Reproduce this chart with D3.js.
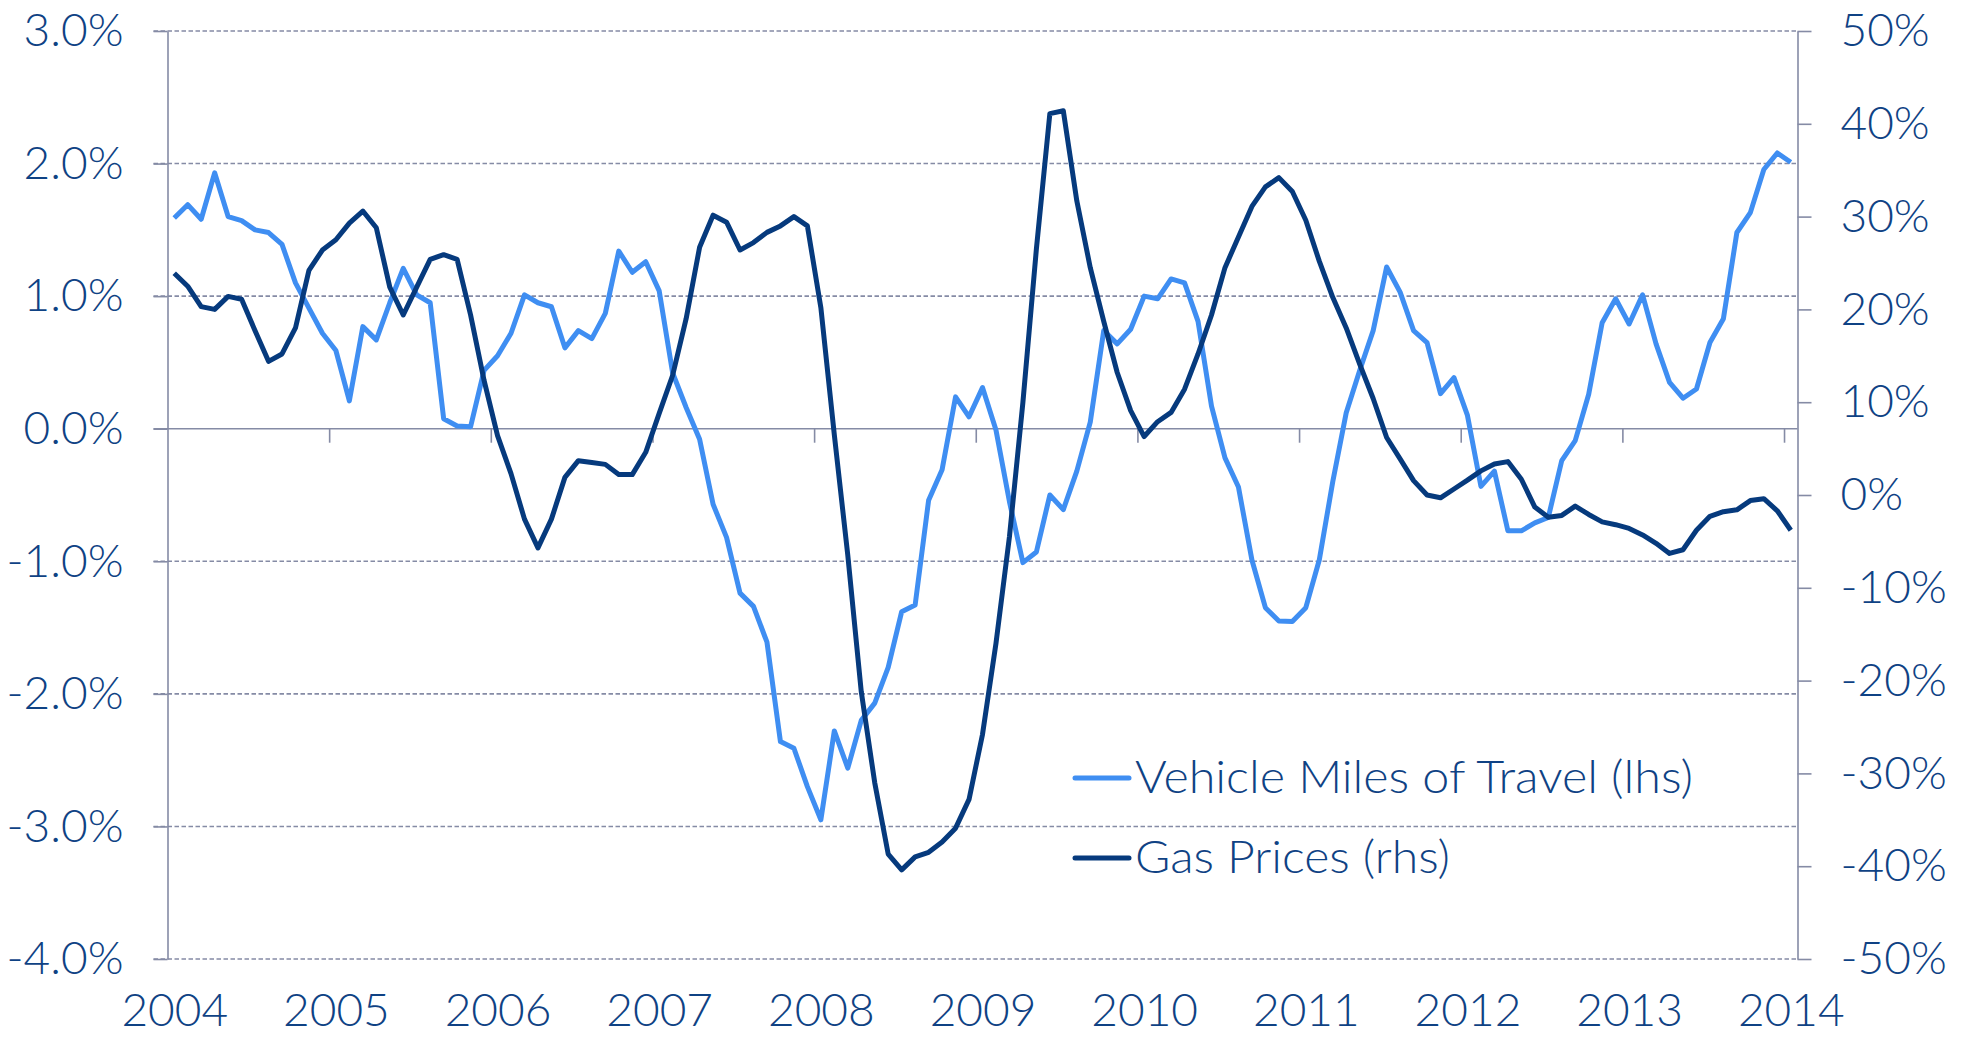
<!DOCTYPE html>
<html>
<head>
<meta charset="utf-8">
<style>
  body { margin: 0; background: #fff; }
  text { font-family: Lato, "Open Sans", sans-serif; font-weight: 300; fill: #0f4284; }
</style>
</head>
<body>
<script src="https://d3js.org/d3.v7.min.js"></script>
<svg id="chart" width="1965" height="1037"></svg>
<script>
  // monthly, Jan 2004 .. Jan 2014
  const years = [2004, 2005, 2006, 2007, 2008, 2009, 2010, 2011, 2012, 2013, 2014];
  const leftTicks = [-4, -3, -2, -1, 0, 1, 2, 3];
  const rightTicks = [-50, -40, -30, -20, -10, 0, 10, 20, 30, 40, 50];

  // Vehicle Miles of Travel, y/y % (lhs)
  const vmt = [
    1.59, 1.69, 1.58, 1.93, 1.60, 1.57, 1.50, 1.48, 1.39, 1.10, 0.91, 0.72,
    0.59, 0.21, 0.77, 0.67, 0.95, 1.21, 1.01, 0.95, 0.075, 0.02, 0.015, 0.44,
    0.55, 0.72, 1.01, 0.95, 0.92, 0.61, 0.74, 0.68, 0.87, 1.34, 1.18, 1.26,
    1.04, 0.42, 0.16, -0.08, -0.57, -0.82, -1.24, -1.34, -1.61, -2.36, -2.41, -2.70,
    -2.95, -2.28, -2.56, -2.20, -2.07, -1.80, -1.38, -1.33, -0.54, -0.31, 0.24, 0.09,
    0.31, -0.01, -0.55, -1.01, -0.93, -0.50, -0.61, -0.32, 0.05, 0.74, 0.64, 0.75,
    1.00, 0.98, 1.13, 1.10, 0.81, 0.17, -0.22, -0.44, -0.99, -1.35, -1.45, -1.455,
    -1.35, -0.99, -0.40, 0.12, 0.44, 0.74, 1.22, 1.03, 0.74, 0.65, 0.265, 0.385,
    0.10, -0.435, -0.32, -0.77, -0.77, -0.71, -0.67, -0.24, -0.09, 0.26, 0.80, 0.98,
    0.79, 1.01, 0.64, 0.35, 0.23, 0.30, 0.65, 0.83, 1.48, 1.63, 1.955, 2.08,
    2.01
  ];

  // Gas prices, y/y % (rhs)
  const gas = [
    23.9, 22.5, 20.3, 20.0, 21.4, 21.1, 17.7, 14.4, 15.2, 18.0, 24.2, 26.4,
    27.5, 29.3, 30.6, 28.8, 22.4, 19.4, 22.4, 25.4, 25.9, 25.4, 19.4, 12.35,
    6.4, 2.3, -2.6, -5.7, -2.6, 1.9, 3.7, 3.5, 3.3, 2.2, 2.2, 4.6,
    8.8, 12.9, 19.0, 26.7, 30.15, 29.4, 26.4, 27.2, 28.3, 29.0, 30.0, 29.0,
    20.2, 6.5, -6.5, -21.2, -31.0, -38.7, -40.4, -39.0, -38.5, -37.4, -35.9, -32.8,
    -25.8, -16.0, -4.5, 10.0, 26.5, 41.1, 41.4, 31.7, 24.5, 18.7, 13.2, 9.1,
    6.3, 7.9, 8.9, 11.4, 15.2, 19.4, 24.5, 27.8, 31.1, 33.2, 34.2, 32.7,
    29.6, 25.2, 21.3, 18.0, 14.1, 10.4, 6.2, 3.9, 1.55, 0.0, -0.3, 0.65,
    1.6, 2.6, 3.35, 3.6, 1.7, -1.3, -2.4, -2.2, -1.2, -2.1, -2.9, -3.2,
    -3.6, -4.3, -5.2, -6.3, -5.9, -3.8, -2.3, -1.8, -1.6, -0.6, -0.4, -1.7,
    -3.8
  ];

  const series = ['Vehicle Miles of Travel (lhs)', 'Gas Prices (rhs)'];
  const colors = ['#3f8ef2', '#063a7d'];
  const gridColor = '#858ba5';
  const textColor = '#0f4284';

  const svg = d3.select('#chart');
  const margin = {top: 31, right: 167.5, bottom: 78, left: 167.5};
  const width = +svg.attr('width') - margin.left - margin.right;   // ~1630
  const height = +svg.attr('height') - margin.top - margin.bottom; // 928
  const g = svg.append('g').attr('transform', `translate(${margin.left}, ${margin.top})`);

  const x = d3.scaleLinear().domain([0, vmt.length]).range([0, width]);
  const yL = d3.scaleLinear().domain([-4, 3]).range([height, 0]);
  const yR = d3.scaleLinear().domain([-50, 50]).range([height, 0]);

  // gridlines (dashed), zero line solid
  g.append('g').selectAll('line')
    .data(leftTicks)
    .enter().append('line')
    .attr('x1', -14).attr('x2', width)
    .attr('y1', d => yL(d)).attr('y2', d => yL(d))
    .attr('stroke', gridColor)
    .attr('stroke-width', 1.6)
    .attr('stroke-dasharray', d => d === 0 ? null : '4.5,2.5');

  // left axis
  const leftAxis = g.append('g')
    .call(d3.axisLeft(yL).tickValues(leftTicks).tickSize(14).tickSizeOuter(0).tickPadding(30)
      .tickFormat(d => d.toFixed(1) + '%'));

  // right axis
  const rightAxis = g.append('g').attr('transform', `translate(${width}, 0)`)
    .call(d3.axisRight(yR).tickValues(rightTicks).tickSize(14).tickSizeOuter(0).tickPadding(29)
      .tickFormat(d => d + '%'));

  // year ticks on the zero line
  const tickAxis = g.append('g').attr('transform', `translate(0, ${yL(0)})`)
    .call(d3.axisBottom(x).tickValues(years.slice(1).map((y, i) => (i + 1) * 12))
      .tickSize(14).tickSizeOuter(0).tickFormat(''));
  tickAxis.select('.domain').remove();

  // year labels at bottom (centred on January)
  const yearAxis = g.append('g').attr('transform', `translate(0, ${height})`)
    .call(d3.axisBottom(x).tickValues(years.map((y, i) => i * 12 + 0.5))
      .tickSize(0).tickPadding(34).tickFormat((d, i) => years[i]));
  yearAxis.select('.domain').remove();

  [leftAxis, rightAxis, tickAxis].forEach(a => {
    a.selectAll('.domain').attr('stroke', gridColor).attr('stroke-width', 1.6);
    a.selectAll('.tick line').attr('stroke', gridColor).attr('stroke-width', 1.6);
  });
  [leftAxis, rightAxis].forEach(a => a.selectAll('text')
    .attr('font-size', 46).attr('font-family', 'Lato').attr('font-weight', 300).attr('fill', textColor));
  yearAxis.selectAll('text')
    .attr('font-size', 46).attr('font-family', 'Lato').attr('font-weight', 300).attr('fill', textColor);

  // lines
  const lineL = d3.line().x((d, i) => x(i + 0.5)).y(d => yL(d));
  const lineR = d3.line().x((d, i) => x(i + 0.5)).y(d => yR(d));

  g.append('path').datum(vmt)
    .attr('d', lineL)
    .attr('fill', 'none')
    .attr('stroke', colors[0])
    .attr('stroke-width', 5)
    .attr('stroke-linejoin', 'round');

  g.append('path').datum(gas)
    .attr('d', lineR)
    .attr('fill', 'none')
    .attr('stroke', colors[1])
    .attr('stroke-width', 5)
    .attr('stroke-linejoin', 'round');

  // legend
  const legend = svg.append('g').attr('transform', 'translate(1075, 778)');
  const legendW = [558, 315];
  series.forEach((s, i) => {
    const row = legend.append('g').attr('transform', `translate(0, ${i * 80})`);
    row.append('line')
      .attr('x1', 0).attr('x2', 54)
      .attr('stroke', colors[i]).attr('stroke-width', 5).attr('stroke-linecap', 'round');
    row.append('text')
      .attr('x', 60).attr('y', 15)
      .attr('font-size', 46)
      .attr('font-family', '"Liberation Sans Narrow", Lato, sans-serif')
      .attr('font-weight', 300)
      .attr('textLength', legendW[i])
      .attr('lengthAdjust', 'spacingAndGlyphs')
      .text(s);
  });
</script>
</body>
</html>
